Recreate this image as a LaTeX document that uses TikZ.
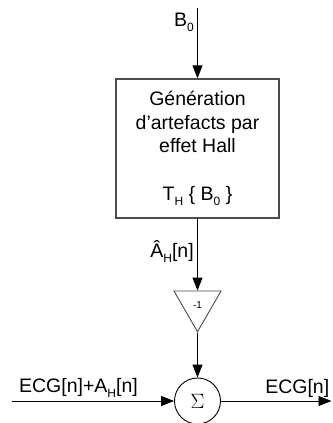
\documentclass[tikz,border=0pt]{standalone}
\usepackage{fontspec}
\setmainfont{Liberation Sans}
\usetikzlibrary{arrows.meta,positioning,shapes.geometric}
\newcommand{\lowidx}[1]{\raisebox{-5pt}{\fontsize{12}{12}\selectfont #1}}

\begin{document}
\begin{tikzpicture}[
    x=1pt, y=-1pt,
    font=\fontsize{19.5}{23.5}\selectfont,
    block/.style={rectangle, draw=black!70, line width=1.2pt, minimum width=163pt, minimum height=139pt, align=center, inner sep=0pt},
    gain/.style={regular polygon, regular polygon sides=3, shape border rotate=180, draw=black!70, line width=0.9pt, minimum size=54.3pt, inner sep=0pt, font=\fontsize{10}{12}\selectfont},
    summer/.style={circle, draw=black, line width=0.9pt, minimum size=46pt, inner sep=0pt},
    arrow/.style={-{Triangle[length=13pt, width=10pt]}, line width=0.9pt}
]
\useasboundingbox (0,0) rectangle (332,423);

\coordinate (b0) at (197.5,8);
\node[block] (hall) at (197.5,148.5) {G\'en\'eration\\d'artefacts par\\effet Hall\\[24.5pt]T\lowidx{H} \{ B\lowidx{0} \}};
\node[gain] (inv) at (197.5,304.6) {-1};
\node[summer] (sum) at (197.5,401) {\fontsize{20}{24}\selectfont$\Sigma$};
\coordinate (in) at (12,401);
\coordinate (out) at (331.5,401);

\draw[arrow] (b0) -- node[left, pos=0.2] {B\lowidx{0}} (hall);
\draw[arrow] (hall) -- node[left, pos=0.46] {\^A\lowidx{H}[n]} (inv.north);
\draw[arrow] (inv.south) -- (sum);
\draw[arrow] (in) -- node[above, pos=0.41] {ECG[n]+A\lowidx{H}[n]} (sum);
\draw[arrow] (sum) -- node[above, pos=0.69] {ECG[n]} (out);
\end{tikzpicture}
\end{document}
